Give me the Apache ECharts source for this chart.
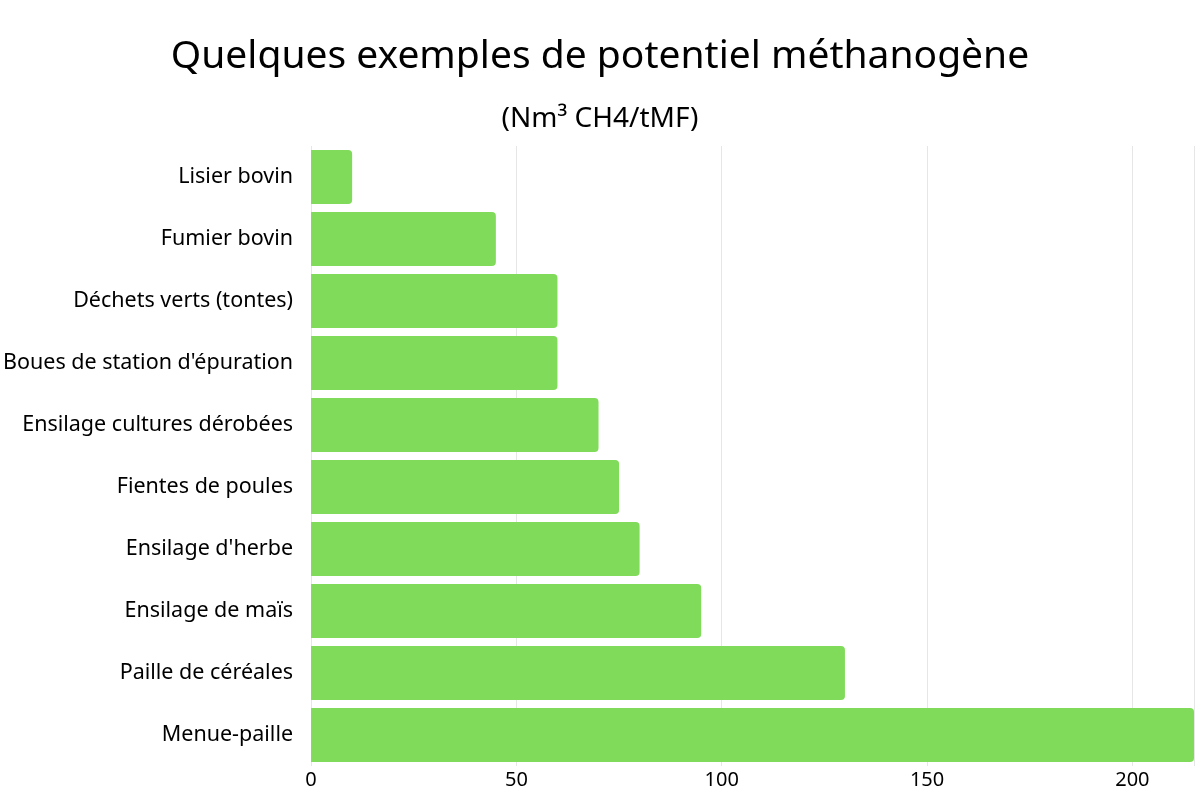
<!DOCTYPE html>
<html>
<head>
<meta charset="utf-8">
<script src="https://cdn.jsdelivr.net/npm/echarts@6/dist/echarts.min.js"></script>
<style>html,body{margin:0;padding:0;background:#fff;}#c{width:1200px;height:800px;}</style>
</head>
<body>
<div id="c"></div>
<script>
const categories = ["Lisier bovin","Fumier bovin","Déchets verts (tontes)","Boues de station d'épuration","Ensilage cultures dérobées","Fientes de poules","Ensilage d'herbe","Ensilage de maïs","Paille de céréales","Menue-paille"];
const values = [10,45,60,60,70,75,80,95,130,215];
const titleText = "Quelques exemples de potentiel méthanogène";
const subtitleText = "(Nm³ CH4/tMF)";

const chart = echarts.init(document.getElementById('c'));
const font = "'Noto Sans', sans-serif";
chart.setOption({
  animation: false,
  title: {
    text: titleText,
    subtext: subtitleText,
    left: 'center',
    top: 32,
    itemGap: 29,
    textStyle: {fontFamily: font, fontSize: 39, fontWeight: 'normal', color: '#000'},
    subtextStyle: {fontFamily: font, fontSize: 28, color: '#000'}
  },
  grid: {left: 311, right: 6, top: 146, bottom: 34},
  xAxis: {
    type: 'value', min: 0, max: 215, interval: 50,
    axisLine: {show: false}, axisTick: {show: false},
    splitLine: {lineStyle: {color: '#e6e6e6'}},
    axisLabel: {fontFamily: font, fontSize: 20, color: '#000', margin: 4, showMaxLabel: false}
  },
  yAxis: {
    type: 'category', data: categories, inverse: true,
    axisLine: {show: false}, axisTick: {show: false},
    axisLabel: {fontFamily: font, fontSize: 21.5, color: '#000', margin: 18, padding: [3, 0, 0, 0]}
  },
  series: [{
    type: 'bar', data: values, barCategoryGap: '13%',
    itemStyle: {color: '#80db5b', borderRadius: [0, 4, 4, 0]}
  }]
});
</script>
</body>
</html>
